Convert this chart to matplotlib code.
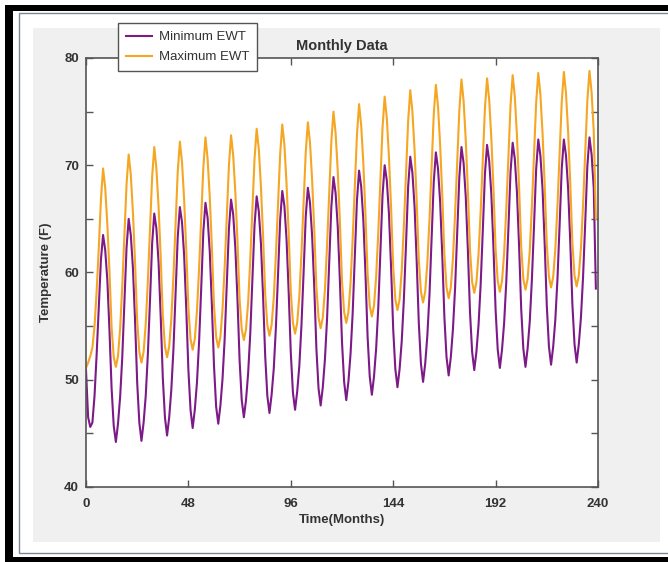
#!/usr/bin/python
#coding: utf8

## Monthly entering water temperature, min / max, 20 years

import matplotlib
matplotlib.use("Agg")
import matplotlib.pyplot as plt
from matplotlib.patches import Rectangle

## data (one row = one year)
months = list(range(0, 240))

min_ewt = [
    50.9, 46.5, 45.6, 46.0, 48.5, 52.4, 56.7, 61.2, 63.5, 62.1, 59.3, 54.6,
    49.2, 45.7, 44.2, 45.9, 48.4, 52.1, 57.1, 62.3, 65.0, 63.5, 60.4, 55.5,
    49.7, 46.0, 44.3, 46.0, 48.5, 52.4, 57.4, 62.7, 65.5, 64.1, 61.0, 56.0,
    50.2, 46.5, 44.8, 46.5, 49.1, 52.9, 58.0, 63.3, 66.1, 64.7, 61.6, 56.6,
    50.9, 47.2, 45.5, 47.2, 49.7, 53.5, 58.5, 63.8, 66.5, 65.1, 62.0, 57.0,
    51.3, 47.5, 45.9, 47.6, 50.1, 53.8, 58.9, 64.1, 66.8, 65.4, 62.3, 57.5,
    51.8, 48.1, 46.5, 48.1, 50.6, 54.3, 59.3, 64.4, 67.1, 65.7, 62.7, 57.8,
    52.2, 48.5, 46.9, 48.6, 51.0, 54.8, 59.7, 64.9, 67.6, 66.2, 63.1, 58.2,
    52.5, 48.8, 47.2, 48.9, 51.3, 55.1, 60.0, 65.2, 67.9, 66.5, 63.4, 58.6,
    52.9, 49.2, 47.6, 49.3, 51.9, 55.7, 60.8, 66.1, 68.9, 67.4, 64.3, 59.3,
    53.5, 49.8, 48.1, 49.8, 52.4, 56.2, 61.4, 66.7, 69.5, 68.0, 64.9, 59.9,
    54.0, 50.3, 48.6, 50.3, 52.9, 56.7, 61.9, 67.2, 70.0, 68.6, 65.5, 60.5,
    54.7, 51.0, 49.3, 51.0, 53.6, 57.5, 62.6, 68.0, 70.8, 69.3, 66.2, 61.1,
    55.3, 51.5, 49.8, 51.5, 54.1, 57.9, 63.1, 68.4, 71.2, 69.7, 66.6, 61.6,
    55.8, 52.1, 50.4, 52.1, 54.7, 58.5, 63.6, 68.9, 71.7, 70.2, 67.1, 62.1,
    56.3, 52.6, 50.9, 52.6, 55.1, 58.9, 63.9, 69.2, 71.9, 70.4, 67.3, 62.3,
    56.5, 52.8, 51.1, 52.8, 55.3, 59.1, 64.1, 69.4, 72.1, 70.6, 67.5, 62.5,
    56.6, 52.9, 51.2, 52.9, 55.4, 59.3, 64.3, 69.6, 72.4, 70.9, 67.8, 62.7,
    56.9, 53.1, 51.4, 53.1, 55.6, 59.4, 64.4, 69.7, 72.4, 70.9, 67.8, 62.8,
    57.0, 53.3, 51.6, 53.3, 55.8, 59.6, 64.6, 69.9, 72.6, 71.0, 67.9, 58.5,
]

max_ewt = [
    51.1, 51.6, 52.2, 53.0, 55.0, 58.3, 62.3, 66.8, 69.7, 67.9, 64.5, 60.1,
    54.9, 52.1, 51.2, 52.2, 54.8, 58.7, 63.5, 68.2, 71.0, 69.1, 65.6, 60.9,
    55.5, 52.6, 51.6, 52.6, 55.2, 59.2, 64.1, 68.9, 71.7, 69.7, 66.2, 61.5,
    56.0, 53.1, 52.1, 53.1, 55.7, 59.7, 64.6, 69.4, 72.2, 70.3, 66.8, 62.1,
    56.7, 53.8, 52.8, 53.8, 56.4, 60.3, 65.1, 69.8, 72.6, 70.6, 67.1, 62.4,
    56.9, 54.0, 53.0, 54.0, 56.6, 60.5, 65.3, 70.0, 72.8, 70.9, 67.5, 62.9,
    57.5, 54.7, 53.7, 54.7, 57.2, 61.2, 65.9, 70.6, 73.4, 71.5, 68.0, 63.4,
    58.0, 55.1, 54.1, 55.1, 57.6, 61.6, 66.3, 71.0, 73.8, 71.9, 68.3, 63.7,
    58.2, 55.3, 54.3, 55.3, 57.8, 61.8, 66.5, 71.2, 74.0, 72.1, 68.6, 64.0,
    58.6, 55.8, 54.8, 55.8, 58.4, 62.5, 67.3, 72.2, 75.0, 73.0, 69.5, 64.8,
    59.2, 56.3, 55.3, 56.3, 59.0, 63.1, 68.0, 72.8, 75.7, 73.7, 70.2, 65.4,
    59.9, 56.9, 55.9, 56.9, 59.6, 63.7, 68.6, 73.5, 76.4, 74.4, 70.8, 66.1,
    60.5, 57.5, 56.5, 57.5, 60.2, 64.3, 69.2, 74.1, 77.0, 75.0, 71.5, 66.7,
    61.2, 58.2, 57.2, 58.2, 60.9, 64.9, 69.8, 74.7, 77.5, 75.5, 71.9, 67.2,
    61.6, 58.6, 57.6, 58.6, 61.3, 65.4, 70.2, 75.1, 78.0, 76.0, 72.4, 67.7,
    62.1, 59.1, 58.1, 59.1, 61.7, 65.7, 70.5, 75.3, 78.1, 76.1, 72.5, 67.8,
    62.2, 59.2, 58.2, 59.2, 61.8, 65.9, 70.7, 75.6, 78.4, 76.4, 72.8, 68.0,
    62.4, 59.4, 58.4, 59.4, 62.0, 66.1, 70.9, 75.8, 78.6, 76.6, 73.0, 68.2,
    62.6, 59.6, 58.6, 59.6, 62.2, 66.2, 71.1, 75.9, 78.7, 76.7, 73.1, 68.3,
    62.7, 59.7, 58.7, 59.7, 62.3, 66.3, 71.2, 76.0, 78.8, 76.8, 73.2, 65.0,
]

x_ticks = [0, 48, 96, 144, 192, 240]
y_ticks = [40, 45, 50, 55, 60, 65, 70, 75, 80]

## figure geometry in pixels
W, H = 668, 562


def px_rect(fig, x0, y0, x1, y1, **kw):
    """ rectangle given in image pixels (top-left origin) """
    r = Rectangle((x0 / W, 1 - y1 / H), (x1 - x0) / W, (y1 - y0) / H,
                  transform=fig.transFigure, **kw)
    fig.add_artist(r)


fig = plt.figure(figsize=(W / 100.0, H / 100.0), dpi=100)
fig.patch.set_facecolor("white")

## frame decoration
px_rect(fig, 5, 5, 672, 562, facecolor="black", edgecolor="none", zorder=-10)
px_rect(fig, 13, 11, 672, 557, facecolor="white", edgecolor="none", zorder=-9)
px_rect(fig, 19, 13, 672, 553, facecolor="white", edgecolor="#7b8794",
        lw=1.0, zorder=-8)
px_rect(fig, 33, 28, 660, 542, facecolor="#f0f0f0", edgecolor="none", zorder=-7)

## axes
ax = fig.add_axes([86 / W, 1 - 487 / H, 512 / W, 429 / H])
ax.set_facecolor("white")

ax.plot(months, min_ewt, color="#7d1a88", lw=1.5, label="Minimum EWT")
ax.plot(months, max_ewt, color="#f5a623", lw=1.5, label="Maximum EWT")

ax.set_xlim(0, 240)
ax.set_ylim(40, 80)
ax.set_xticks(x_ticks)
ax.set_yticks(y_ticks)
ax.set_yticklabels([str(v) if v % 10 == 0 else "" for v in y_ticks])

for s in ax.spines.values():
    s.set_color("#555555")
    s.set_linewidth(1.2)

ax.tick_params(direction="in", top=True, right=True, length=5, width=1,
               color="#555555", labelcolor="#333333", labelsize=9.5)
ax.tick_params(axis="x", pad=8)
ax.tick_params(axis="y", pad=5)
for lab in ax.get_xticklabels() + ax.get_yticklabels():
    lab.set_fontweight("bold")
    lab.set_fontfamily("Liberation Sans")

ax.set_title("Monthly Data", fontsize=10.5, fontweight="bold",
             family="Liberation Sans", color="#333333", pad=6)
ax.set_xlabel("Time(Months)", fontsize=9.5, fontweight="bold",
              family="Liberation Sans", color="#333333", labelpad=3)
ax.set_ylabel("Temperature (F)", fontsize=9.5, fontweight="bold",
              family="Liberation Sans", color="#333333", labelpad=9)

leg = ax.legend(loc="upper left", bbox_to_anchor=(118 / W, 1 - 23 / H),
                bbox_transform=fig.transFigure, borderaxespad=0,
                fancybox=False, framealpha=1, edgecolor="#555555",
                prop={"family": "Liberation Sans", "size": 9.5},
                handlelength=2.0, handletextpad=0.5, labelspacing=0.6,
                borderpad=0.6)
leg.get_frame().set_linewidth(1.0)
for t in leg.get_texts():
    t.set_color("#333333")

plt.savefig("out.png", dpi=100)
plt.close()
